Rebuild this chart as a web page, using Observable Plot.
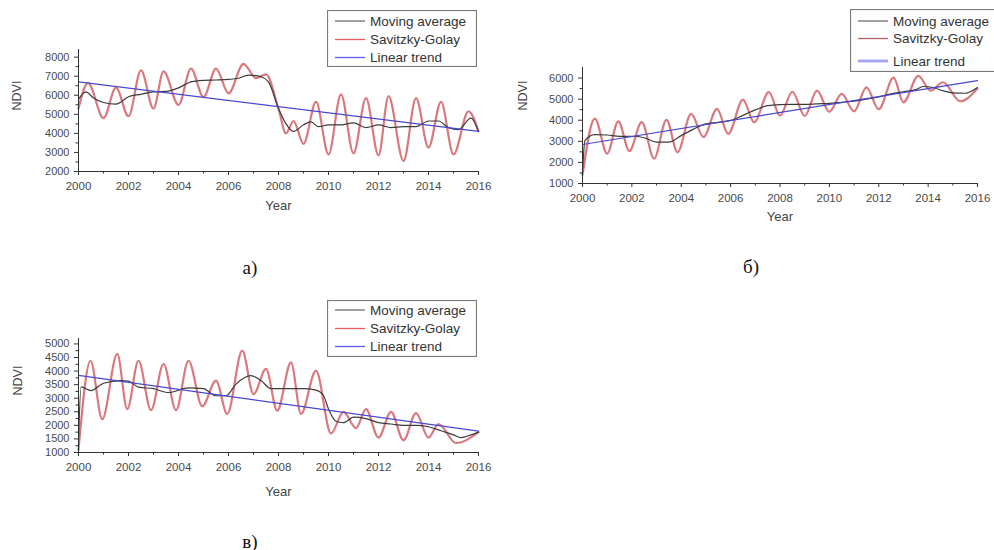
<!DOCTYPE html>
<html>
<head>
<meta charset="utf-8">
<script src="https://cdn.jsdelivr.net/npm/d3@7"></script>
<script src="https://cdn.jsdelivr.net/npm/@observablehq/plot@0.6"></script>
<style>
  body { margin: 0; background: #fff; }
  #root { position: relative; width: 994px; height: 550px; overflow: hidden; background: #fff;
          font-family: "Liberation Sans", Arial, sans-serif; }
  .panel { position: absolute; }
  .legend { position: absolute; }
  .cap { position: absolute; font-family: "Liberation Serif", "Times New Roman", serif; font-size: 19px;
         color: #111; transform: translate(-50%, -50%); line-height: 1; }
</style>
</head>
<body>
<div id="root"></div>
<script>
// ---------- tick values ----------
const yearTicks = [2000, 2002, 2004, 2006, 2008, 2010, 2012, 2014, 2016];
const yearMinorTicks = [2001, 2003, 2005, 2007, 2009, 2011, 2013, 2015];
const yTicksA = [2000, 3000, 4000, 5000, 6000, 7000, 8000];
const yMinorA = [2500, 3500, 4500, 5500, 6500, 7500];
const yTicksB = [1000, 2000, 3000, 4000, 5000, 6000];
const yMinorB = [1500, 2500, 3500, 4500, 5500];
const yTicksC = [1000, 1500, 2000, 2500, 3000, 3500, 4000, 4500, 5000];
const yMinorC = [1250, 1750, 2250, 2750, 3250, 3750, 4250, 4750];

const seriesNames = ["Moving average", "Savitzky-Golay", "Linear trend"];
const panelCaptions = ["а)", "б)", "в)"];

// ---------- panel а) ----------
const sgYearA = [2000.0, 2000.38, 2001.0, 2001.5, 2002.0, 2002.5, 2003.0, 2003.4, 2004.0, 2004.5, 2005.0, 2005.5,
  2006.0, 2006.6, 2007.1, 2007.5, 2008.0, 2008.3, 2008.6, 2009.0, 2009.5, 2010.0, 2010.5, 2011.0, 2011.5,
  2012.0, 2012.4, 2013.0, 2013.5, 2014.0, 2014.5, 2015.0, 2015.6, 2016.0];
const sgNdviA = [5300, 6650, 4800, 6400, 4900, 7300, 5300, 7250, 5500, 7400, 5900, 7400,
  6100, 7650, 6900, 7100, 5300, 4000, 4650, 3450, 5650, 2900, 6050, 2950, 5850,
  2850, 5950, 2550, 5850, 3250, 5650, 2900, 5150, 4100];
const maYearA = [2000.0, 2000.3, 2000.6, 2001.0, 2001.5, 2002.0, 2002.5, 2003.0, 2003.5, 2004.0, 2004.5, 2005.0,
  2005.5, 2006.0, 2006.4, 2006.8, 2007.3, 2007.6, 2008.0, 2008.3, 2008.6, 2009.0, 2009.3, 2009.6, 2010.0,
  2010.5, 2011.0, 2011.5, 2012.0, 2012.5, 2013.0, 2013.5, 2014.0, 2014.4, 2014.8, 2015.2, 2015.7, 2016.0];
const maNdviA = [5800, 6180, 5850, 5620, 5530, 5920, 6050, 6180, 6200, 6390, 6700, 6780,
  6800, 6830, 6890, 7060, 6970, 6700, 5300, 4500, 4100, 4450, 4600, 4350, 4450,
  4450, 4550, 4300, 4450, 4300, 4350, 4350, 4650, 4650, 4300, 4200, 4800, 4100];
const trendYearA = [2000, 2016];
const trendNdviA = [6700, 4100];

// ---------- panel б) ----------
const sgYearB = [2000.0, 2000.5, 2001.0, 2001.45, 2001.9, 2002.4, 2002.9, 2003.4, 2003.85, 2004.4, 2004.9, 2005.45,
  2005.9, 2006.5, 2006.95, 2007.55, 2008.0, 2008.5, 2009.0, 2009.5, 2010.0, 2010.5, 2011.0, 2011.5,
  2012.0, 2012.6, 2013.0, 2013.6, 2014.1, 2014.6, 2015.3, 2016.0];
const sgNdviB = [1400, 4080, 2420, 3950, 2540, 3910, 2180, 4020, 2480, 4300, 3200, 4540,
  3350, 4980, 3900, 5330, 4220, 5350, 4200, 5400, 4400, 5250, 4420, 5560,
  4520, 6020, 4850, 6100, 5400, 5800, 4900, 5500];
const maYearB = [2000.0, 2000.1, 2000.5, 2001.0, 2001.5, 2002.0, 2002.5, 2003.0, 2003.5, 2004.0, 2004.5, 2005.0,
  2005.5, 2006.0, 2006.5, 2007.0, 2007.5, 2008.0, 2008.5, 2009.0, 2009.5, 2010.0, 2010.5, 2011.0, 2011.5,
  2012.0, 2012.5, 2013.0, 2013.5, 2013.8, 2014.2, 2014.6, 2015.0, 2015.5, 2016.0];
const maNdviB = [1500, 3040, 3320, 3300, 3230, 3240, 3170, 2960, 2960, 3270, 3580, 3830,
  3900, 3990, 4230, 4490, 4690, 4740, 4750, 4750, 4780, 4800, 4850, 4900, 5000,
  5100, 5250, 5350, 5450, 5600, 5550, 5400, 5300, 5280, 5550];
const trendYearB = [2000, 2016];
const trendNdviB = [2850, 5880];

// ---------- panel в) ----------
const sgYearC = [2000.0, 2000.48, 2000.95, 2001.55, 2001.95, 2002.4, 2002.9, 2003.4, 2003.9, 2004.4, 2004.95, 2005.5,
  2005.95, 2006.55, 2007.0, 2007.5, 2007.95, 2008.5, 2008.9, 2009.5, 2010.1, 2010.6, 2011.1, 2011.5,
  2012.0, 2012.5, 2013.0, 2013.5, 2014.0, 2014.4, 2015.1, 2016.0];
const sgNdviC = [1100, 4380, 2230, 4630, 2600, 4380, 2560, 4260, 2560, 4380, 2700, 3650,
  2420, 4750, 3150, 4080, 2540, 4320, 2420, 4020, 1700, 2500, 1900, 2600,
  1550, 2500, 1450, 2450, 1550, 2050, 1350, 1750];
const maYearC = [2000.0, 2000.1, 2000.5, 2001.0, 2001.7, 2002.0, 2002.4, 2003.0, 2003.6, 2004.4, 2005.0, 2005.5,
  2005.9, 2006.3, 2006.9, 2007.3, 2007.7, 2008.3, 2009.0, 2009.5, 2009.8, 2010.0, 2010.3, 2010.6, 2011.0,
  2011.5, 2012.0, 2012.5, 2013.0, 2013.5, 2014.0, 2014.5, 2015.0, 2015.3, 2015.7, 2016.0];
const maNdviC = [1300, 3420, 3280, 3550, 3650, 3630, 3410, 3350, 3210, 3380, 3350, 3090,
  3090, 3520, 3830, 3650, 3350, 3350, 3350, 3300, 3100, 2600, 2150, 2100, 2300,
  2250, 2100, 2050, 2000, 2000, 1950, 1800, 1650, 1550, 1650, 1750];
const trendYearC = [2000, 2016];
const trendNdviC = [3840, 1790];

// ---------- helpers ----------
const zip = (xs, ys) => xs.map((x, i) => ({year: x, ndvi: ys[i]}));
const FONT = "Liberation Sans, Arial, sans-serif";
const root = document.getElementById("root");

function drawPanel(cfg) {
  const chart = Plot.plot({
    width: cfg.width, height: cfg.height,
    marginLeft: cfg.mL, marginRight: cfg.mR, marginTop: cfg.mT, marginBottom: cfg.mB,
    x: {domain: [2000, 2016], axis: null},
    y: {domain: cfg.yDomain, axis: null},
    style: {fontFamily: FONT, background: "transparent", overflow: "visible"},
    marks: [
      Plot.line(cfg.sg, {x: "year", y: "ndvi", curve: "monotone-x", stroke: "#d9797d", strokeWidth: 2.2}),
      Plot.line(cfg.ma, {x: "year", y: "ndvi", curve: "monotone-x", stroke: "#3c3c3c", strokeWidth: 1.2}),
      Plot.line(cfg.trend, {x: "year", y: "ndvi", stroke: "#4848d0", strokeWidth: 1.2}),
      Plot.ruleX([2000], {stroke: "#333", strokeWidth: 1}),
      Plot.ruleY([cfg.yDomain[0]], {stroke: "#333", strokeWidth: 1}),
      Plot.axisX({ticks: yearTicks, tickSize: 4, tickPadding: 6, tickFormat: d => String(d),
        fontSize: 11.5, fill: "#4a4a4a", stroke: "#333", label: null}),
      Plot.axisX({ticks: yearMinorTicks, tickSize: 2.5, tickFormat: () => "", stroke: "#333", label: null}),
      Plot.axisY({ticks: cfg.yTicks, tickSize: 4, tickPadding: 5, tickFormat: d => String(d),
        fontSize: 11, fill: "#4a4a4a", stroke: "#333", label: null}),
      Plot.axisY({ticks: cfg.yMinor, tickSize: 2.5, tickFormat: () => "", stroke: "#333", label: null}),
      Plot.text(["Year"], {text: d => d, frameAnchor: "bottom", dy: cfg.yearDy, fontSize: 13, fill: "#444"}),
      Plot.text(["NDVI"], {text: d => d, frameAnchor: "left", dx: cfg.ndviDx, dy: cfg.ndviDy || 0, rotate: -90,
        fontSize: 12.5, fill: "#444", letterSpacing: 1})
    ]
  });
  chart.classList.add("panel");
  chart.style.left = cfg.left + "px";
  chart.style.top = cfg.top + "px";
  root.appendChild(chart);
}

function drawLegend(cfg) {
  const svg = d3.select(root).append("svg")
    .attr("class", "legend")
    .style("left", cfg.left + "px").style("top", cfg.top + "px")
    .attr("width", cfg.width).attr("height", cfg.height);
  svg.append("rect").attr("x", 0.5).attr("y", 0.5)
    .attr("width", cfg.width - (cfg.openRight ? 0 : 1) + (cfg.openRight ? 5 : 0)).attr("height", cfg.height - 1)
    .attr("fill", "#fff").attr("stroke", "#7a7a7a").attr("stroke-width", 1.2);
  seriesNames.forEach((name, i) => {
    const y = cfg.rows[i];
    const st = cfg.styles[i];
    svg.append("line").attr("x1", 8).attr("x2", 38).attr("y1", y).attr("y2", y)
      .attr("stroke", st.color).attr("stroke-width", st.width);
    svg.append("text").attr("x", 43).attr("y", y + 4.5)
      .attr("font-family", FONT).attr("font-size", 13.5).attr("fill", "#333").text(name);
  });
}

function caption(text, x, y) {
  const d = document.createElement("div");
  d.className = "cap";
  d.style.left = x + "px";
  d.style.top = y + "px";
  d.textContent = text;
  root.appendChild(d);
}

// ---------- panels ----------
drawPanel({left: 0, top: 0, width: 490, height: 230, mL: 78, mR: 12, mT: 49, mB: 59,
  yDomain: [2000, 8400], yTicks: yTicksA, yMinor: yMinorA,
  sg: zip(sgYearA, sgNdviA), ma: zip(maYearA, maNdviA), trend: zip(trendYearA, trendNdviA),
  yearDy: 38, ndviDx: -62});
drawPanel({left: 500, top: 0, width: 494, height: 230, mL: 82, mR: 17, mT: 67, mB: 47,
  yDomain: [1000, 6500], yTicks: yTicksB, yMinor: yMinorB,
  sg: zip(sgYearB, sgNdviB), ma: zip(maYearB, maNdviB), trend: zip(trendYearB, trendNdviB),
  yearDy: 37, ndviDx: -60, ndviDy: -15});
drawPanel({left: 0, top: 260, width: 490, height: 250, mL: 78, mR: 12, mT: 78, mB: 58,
  yDomain: [1000, 5200], yTicks: yTicksC, yMinor: yMinorC,
  sg: zip(sgYearC, sgNdviC), ma: zip(maYearC, maNdviC), trend: zip(trendYearC, trendNdviC),
  yearDy: 43, ndviDx: -61});

// ---------- legends ----------
const legStyleA = [{color: "#444", width: 1}, {color: "#e06060", width: 1.3}, {color: "#5a5ae8", width: 1.3}];
const legStyleB = [{color: "#444", width: 1}, {color: "#b86060", width: 1.3}, {color: "#a8a8f0", width: 3}];
drawLegend({left: 327, top: 10, width: 150, height: 57, rows: [11, 29.5, 47.5], styles: legStyleA});
drawLegend({left: 850, top: 9, width: 150, height: 63, rows: [12, 29.5, 52], styles: legStyleB, openRight: true});
drawLegend({left: 327, top: 300, width: 150, height: 57, rows: [10, 28.5, 46.5], styles: legStyleA});

// ---------- captions ----------
caption(panelCaptions[0], 250, 267);
caption(panelCaptions[1], 751, 266);
caption(panelCaptions[2], 250, 541);
</script>
</body>
</html>
